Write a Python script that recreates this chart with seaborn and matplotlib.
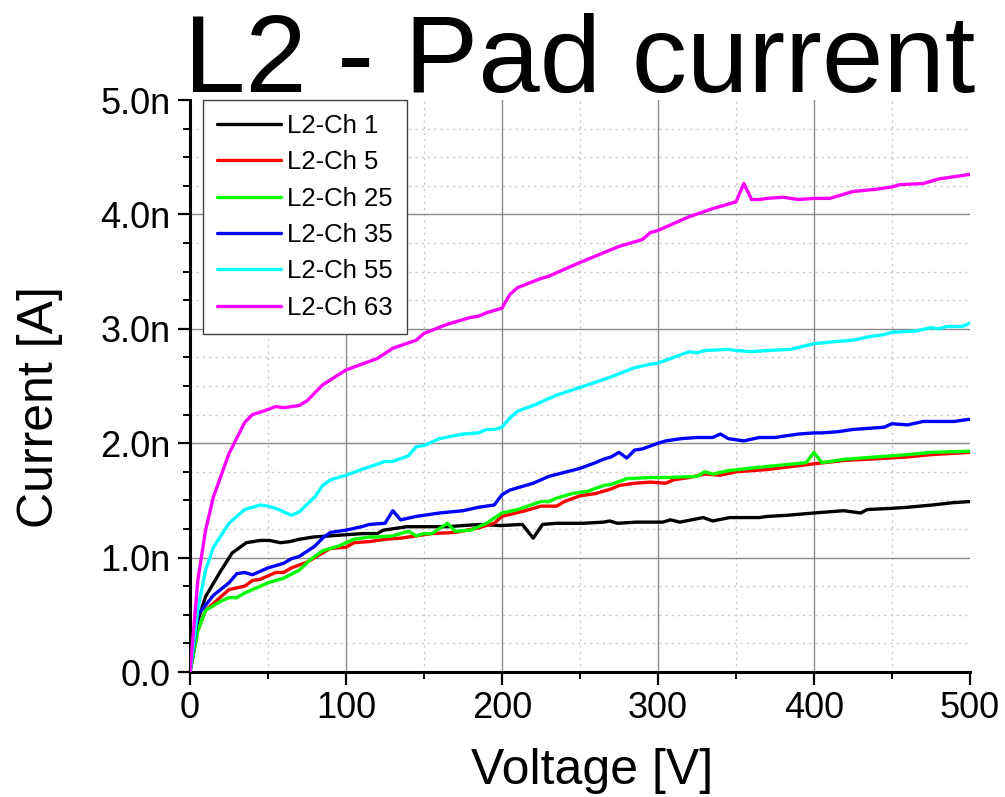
import numpy as np
import pandas as pd
import matplotlib
matplotlib.use("Agg")
import matplotlib.pyplot as plt
from matplotlib.ticker import MultipleLocator, FixedLocator
import seaborn as sns

# ---------------- data (voltage in V, current in nA) ----------------
ch1_v = [0, 5, 10, 20, 27, 36, 45, 51, 58, 64, 70, 79, 90, 100, 111, 120, 124, 139, 150, 165,
         175, 186, 199, 213, 220, 226, 235, 252, 265, 269, 274, 286, 303, 308, 314, 329, 335,
         346, 365, 370, 383, 400, 419, 430, 434, 449, 460, 476, 489, 500]
ch1_i = [0, 0.45, 0.66, 0.89, 1.04, 1.13, 1.15, 1.15, 1.13, 1.14, 1.16, 1.18, 1.19, 1.20, 1.21,
         1.21, 1.24, 1.27, 1.27, 1.27, 1.28, 1.29, 1.28, 1.29, 1.17, 1.29, 1.30, 1.30, 1.31, 1.32,
         1.30, 1.31, 1.31, 1.33, 1.31, 1.35, 1.32, 1.35, 1.35, 1.36, 1.37, 1.39, 1.41, 1.39, 1.42,
         1.43, 1.44, 1.46, 1.48, 1.49]

ch5_v = [0, 5, 10, 20, 25, 35, 40, 45, 55, 60, 65, 75, 85, 90, 100, 105, 115, 125, 135, 145,
         155, 170, 185, 195, 200, 215, 225, 235, 240, 250, 260, 270, 275, 285, 295, 305, 310,
         320, 330, 340, 350, 360, 370, 400, 420, 435, 460, 475, 500]
ch5_i = [0, 0.36, 0.54, 0.66, 0.72, 0.75, 0.80, 0.81, 0.87, 0.87, 0.91, 0.96, 1.04, 1.08, 1.09,
         1.13, 1.14, 1.16, 1.17, 1.19, 1.21, 1.22, 1.26, 1.30, 1.36, 1.41, 1.45, 1.45, 1.49, 1.54,
         1.56, 1.60, 1.63, 1.65, 1.66, 1.65, 1.68, 1.70, 1.73, 1.72, 1.75, 1.76, 1.77, 1.82, 1.85,
         1.86, 1.88, 1.90, 1.92]

ch25_v = [0, 5, 10, 20, 25, 30, 35, 40, 50, 60, 70, 77, 85, 95, 105, 115, 120, 130, 140, 145,
          150, 155, 165, 170, 180, 185, 190, 200, 210, 225, 230, 235, 245, 255, 265, 270, 280,
          295, 305, 325, 330, 335, 345, 365, 395, 400, 405, 420, 440, 460, 475, 500]
ch25_i = [0, 0.36, 0.54, 0.62, 0.65, 0.65, 0.69, 0.72, 0.78, 0.82, 0.89, 0.98, 1.06, 1.10, 1.16,
          1.18, 1.18, 1.19, 1.23, 1.19, 1.21, 1.21, 1.30, 1.23, 1.24, 1.27, 1.30, 1.39, 1.42, 1.49,
          1.49, 1.52, 1.56, 1.58, 1.63, 1.64, 1.69, 1.70, 1.70, 1.71, 1.75, 1.73, 1.76, 1.79, 1.83,
          1.92, 1.83, 1.86, 1.88, 1.90, 1.92, 1.93]

ch35_v = [0, 5, 15, 25, 30, 35, 40, 45, 50, 60, 65, 70, 80, 85, 90, 100, 110, 115, 125, 130,
          135, 145, 160, 175, 185, 195, 200, 205, 220, 230, 250, 260, 265, 270, 275, 280, 285,
          290, 300, 305, 315, 325, 335, 340, 345, 355, 365, 375, 380, 390, 400, 405, 415, 425,
          445, 450, 460, 470, 480, 490, 500]
ch35_i = [0, 0.50, 0.67, 0.78, 0.86, 0.87, 0.85, 0.88, 0.91, 0.95, 0.99, 1.01, 1.10, 1.17, 1.22,
          1.24, 1.27, 1.29, 1.30, 1.41, 1.33, 1.36, 1.39, 1.41, 1.44, 1.46, 1.55, 1.59, 1.65, 1.71,
          1.78, 1.83, 1.86, 1.88, 1.92, 1.87, 1.94, 1.95, 2.00, 2.02, 2.04, 2.05, 2.05, 2.08, 2.04,
          2.02, 2.05, 2.05, 2.06, 2.08, 2.09, 2.09, 2.10, 2.12, 2.14, 2.17, 2.16, 2.19, 2.19, 2.19,
          2.21]

ch55_v = [0, 5, 10, 15, 25, 35, 45, 50, 55, 65, 70, 80, 85, 90, 100, 110, 125, 130, 140, 145,
          150, 160, 175, 185, 190, 195, 200, 205, 210, 220, 235, 255, 270, 285, 295, 300, 310,
          320, 325, 330, 345, 350, 360, 370, 385, 400, 415, 425, 435, 445, 450, 465, 475, 480,
          485, 495, 500]
ch55_i = [0, 0.55, 0.89, 1.09, 1.30, 1.42, 1.46, 1.45, 1.43, 1.37, 1.40, 1.53, 1.63, 1.68, 1.72,
          1.77, 1.84, 1.84, 1.89, 1.97, 1.98, 2.04, 2.08, 2.09, 2.12, 2.12, 2.14, 2.22, 2.28, 2.33,
          2.42, 2.51, 2.58, 2.66, 2.69, 2.70, 2.75, 2.80, 2.79, 2.81, 2.82, 2.81, 2.80, 2.81, 2.82,
          2.87, 2.89, 2.90, 2.93, 2.95, 2.97, 2.98, 3.01, 3.00, 3.02, 3.02, 3.05]

ch63_v = [0, 5, 10, 15, 25, 35, 40, 47, 55, 60, 70, 75, 85, 100, 120, 130, 145, 150, 165, 180,
          185, 190, 200, 205, 210, 225, 230, 250, 275, 290, 295, 300, 310, 320, 335, 350, 355,
          360, 365, 370, 380, 390, 400, 410, 415, 425, 440, 450, 455, 470, 480, 485, 495, 500]
ch63_i = [0, 0.80, 1.24, 1.53, 1.91, 2.18, 2.25, 2.28, 2.32, 2.31, 2.33, 2.37, 2.51, 2.64, 2.74,
          2.83, 2.90, 2.96, 3.04, 3.10, 3.11, 3.14, 3.18, 3.30, 3.36, 3.44, 3.46, 3.58, 3.72, 3.78,
          3.84, 3.86, 3.92, 3.98, 4.05, 4.11, 4.27, 4.13, 4.13, 4.14, 4.15, 4.13, 4.14, 4.14, 4.16,
          4.20, 4.22, 4.24, 4.26, 4.27, 4.31, 4.32, 4.34, 4.35]

channels = ["L2-Ch 1", "L2-Ch 5", "L2-Ch 25", "L2-Ch 35", "L2-Ch 55", "L2-Ch 63"]
colors = ["#000000", "#ff0000", "#00ff00", "#0000ff", "#00ffff", "#ff00ff"]
x_ticks = [0, 100, 200, 300, 400, 500]
y_ticks = [0, 1, 2, 3, 4, 5]
y_tick_labels = ["0.0", "1.0n", "2.0n", "3.0n", "4.0n", "5.0n"]

series = [(ch1_v, ch1_i), (ch5_v, ch5_i), (ch25_v, ch25_i),
          (ch35_v, ch35_i), (ch55_v, ch55_i), (ch63_v, ch63_i)]
frames = []
for name, (v, i) in zip(channels, series):
    frames.append(pd.DataFrame({"Voltage": v, "Current": i, "Channel": name}))
df = pd.concat(frames, ignore_index=True)

# ---------------- plot ----------------
sns.set_theme(style="white")
plt.rcParams["font.family"] = ["Liberation Sans", "DejaVu Sans"]
plt.rcParams["text.color"] = "black"
plt.rcParams["axes.labelcolor"] = "black"
plt.rcParams["xtick.color"] = "black"
plt.rcParams["ytick.color"] = "black"

fig = plt.figure(figsize=(10.05, 7.97), dpi=100)
ax = fig.add_axes([190 / 1005, 1 - 672 / 797, 780 / 1005, 572 / 797])

sns.lineplot(data=df, x="Voltage", y="Current", hue="Channel", hue_order=channels,
             palette=dict(zip(channels, colors)), estimator=None, sort=False,
             linewidth=2.4, legend=False, ax=ax, zorder=3)

ax.set_xlim(0, 500)
ax.set_ylim(0, 5)
ax.xaxis.set_major_locator(FixedLocator(x_ticks))
ax.yaxis.set_major_locator(FixedLocator(y_ticks))
ax.xaxis.set_minor_locator(MultipleLocator(50))
ax.yaxis.set_minor_locator(MultipleLocator(0.25))
ax.set_yticklabels(y_tick_labels)
ax.set_xticklabels([str(t) for t in x_ticks])

ax.grid(True, which="major", color="#8c8c8c", linewidth=1.0, linestyle="-", zorder=0)
ax.grid(True, which="minor", color="#c8c8c8", linewidth=1.0, linestyle=(0, (1.5, 3)), zorder=0)
ax.set_axisbelow(True)
ax.xaxis.get_gridlines()[-1].set_visible(False)
ax.yaxis.get_gridlines()[-1].set_visible(False)

sns.despine(ax=ax, top=True, right=True)
for s in ["left", "bottom"]:
    ax.spines[s].set_linewidth(2.2)
    ax.spines[s].set_color("black")

ax.tick_params(which="major", direction="out", length=9, width=1.6, colors="black",
               labelcolor="black", labelsize=26, left=True, bottom=True, pad=5)
ax.tick_params(which="minor", direction="out", length=5, width=1.4, colors="black",
               left=True, bottom=True)

ax.set_xlabel("Voltage [V]", fontsize=36, va="baseline", color="black")
ax.xaxis.set_label_coords((592 - 190) / 780, -(784 - 672) / 572)
ax.set_ylabel("Current [A]", fontsize=36, va="center", color="black")
ax.yaxis.set_label_coords((40 - 190) / 780, (672 - 407) / 572)

fig.text(580 / 1005, 1 - 92 / 797, "L2 - Pad current", fontsize=79.5,
         ha="center", va="baseline", color="black")

leg = ax.legend(handles=ax.lines[:6], labels=channels, loc="upper left",
                bbox_to_anchor=((203 - 190) / 780, 1.0), borderaxespad=0,
                fontsize=18.5, frameon=True, fancybox=False, framealpha=1,
                edgecolor="#404040", handlelength=2.5, handletextpad=0.23,
                labelspacing=0.48, borderpad=0.55, labelcolor="black")
leg.get_frame().set_linewidth(1.0)
for h in leg.get_lines():
    h.set_linewidth(2.4)

fig.savefig("out.png", dpi=100)
